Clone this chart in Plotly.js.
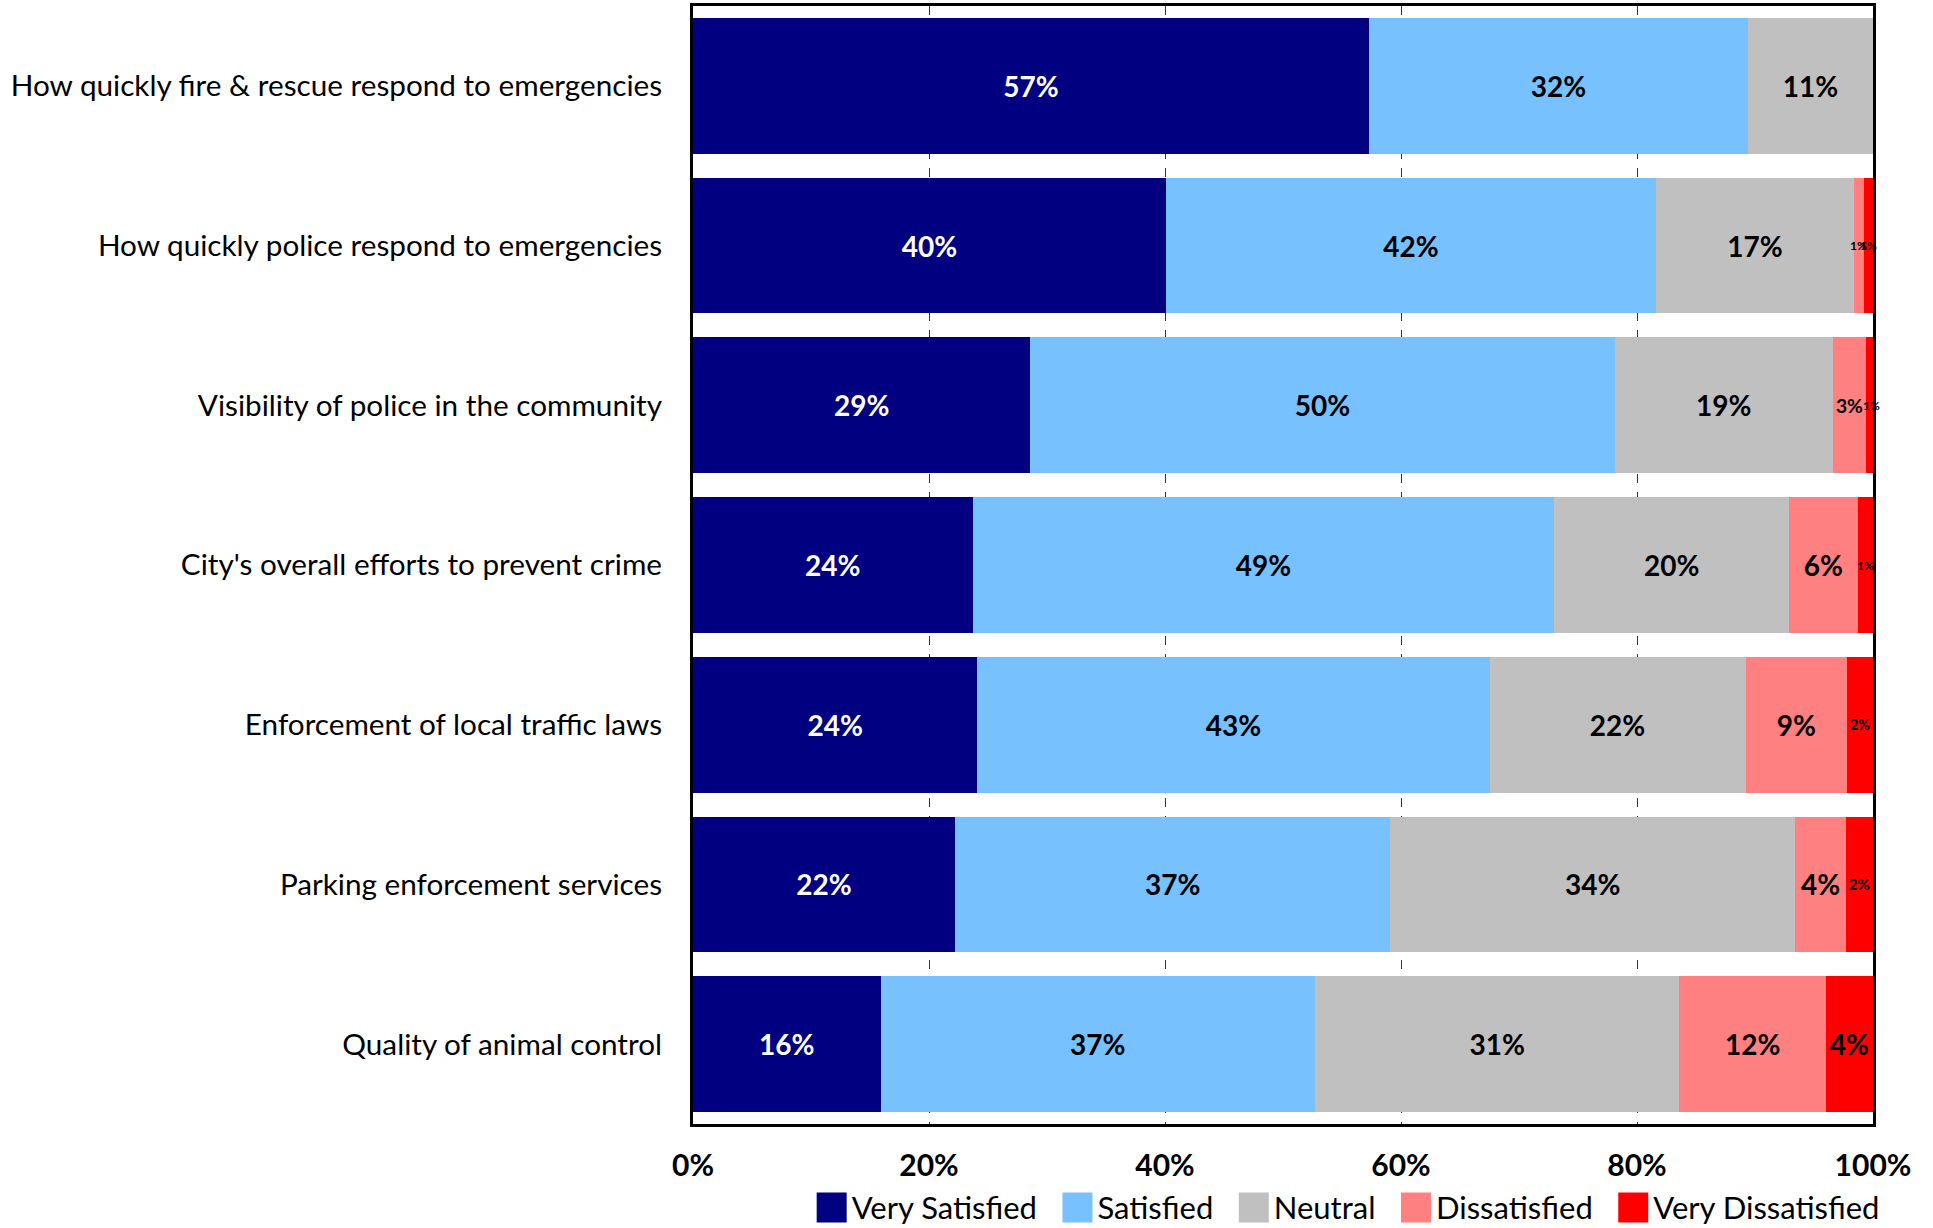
<!DOCTYPE html>
<html>
<head>
<meta charset="utf-8">
<script src="https://cdn.plot.ly/plotly-3.0.1.min.js"></script>
<style>
  html, body { margin: 0; padding: 0; background: #ffffff; }
  #chart { width: 1933px; height: 1228px; }
</style>
</head>
<body>
<div id="chart"></div>
<script>
const categories = [
  "How quickly fire & rescue respond to emergencies",
  "How quickly police respond to emergencies",
  "Visibility of police in the community",
  "City's overall efforts to prevent crime",
  "Enforcement of local traffic laws",
  "Parking enforcement services",
  "Quality of animal control"
];
const seriesNames = ["Very Satisfied", "Satisfied", "Neutral", "Dissatisfied", "Very Dissatisfied"];
const verySatisfied    = [57.3, 40.1, 28.6, 23.7, 24.1, 22.2, 15.9];
const satisfied        = [32.1, 41.5, 49.5, 49.3, 43.4, 36.9, 36.8];
const neutral          = [10.6, 16.8, 18.5, 19.9, 21.7, 34.3, 30.9];
const dissatisfied     = [0.0,  0.8,  2.8,  5.8,  8.6,  4.3, 12.4];
const veryDissatisfied = [0.0,  0.8,  0.9,  1.3,  2.2,  2.3,  4.0];
const tickVals = [0, 20, 40, 60, 80, 100];
const tickText = ["0%", "20%", "40%", "60%", "80%", "100%"];

const colors = ["#000080", "#77C1FE", "#C0C0C0", "#FF8080", "#FF0000"];
const textColors = ["#ffffff", "#000000", "#000000", "#000000", "#000000"];
const allSeries = [verySatisfied, satisfied, neutral, dissatisfied, veryDissatisfied];
const FONT = "Lato, 'Open Sans', sans-serif";
const TINY = 1.5;

const fmt = v => Math.round(v) + "%";

const traces = allSeries.map((vals, i) => ({
  type: "bar",
  orientation: "h",
  // en-space after the name widens the gap between legend entries
  name: seriesNames[i] + (i < seriesNames.length - 1 ? "\u2002" : ""),
  y: categories,
  x: vals,
  text: vals.map(v => (v >= TINY) ? fmt(v) : ""),
  textposition: "inside",
  insidetextanchor: "middle",
  textangle: 0,
  insidetextfont: { family: FONT, size: 28, color: textColors[i], weight: "bold" },
  marker: { color: colors[i], line: { width: 0 } },
  hoverinfo: "none"
}));

// labels for very thin segments: drawn un-shrunk, centred on the segment
const annotations = [];
categories.forEach((cat, r) => {
  let cum = 0;
  allSeries.forEach((vals, i) => {
    const v = vals[r];
    if (v > 0 && v < TINY) {
      annotations.push({
        x: cum + v / 2, y: cat, xref: "x", yref: "y",
        text: "<b>" + fmt(v) + "</b>", showarrow: false,
        font: { family: FONT, size: 12, color: textColors[i] },
        xanchor: "center", yanchor: "middle"
      });
    }
    cum += v;
  });
});

const layout = {
  width: 1933,
  height: 1228,
  barmode: "stack",
  bargap: 0.15,
  paper_bgcolor: "#ffffff",
  plot_bgcolor: "#ffffff",
  margin: { l: 693, r: 60, t: 6, b: 104, autoexpand: false },
  font: { family: FONT, color: "#000000" },
  showlegend: true,
  legend: {
    orientation: "h",
    x: 0.975, xanchor: "right", xref: "container",
    y: 0.0165, yanchor: "middle", yref: "container",
    font: { family: FONT, size: 31, color: "#000000" },
    traceorder: "normal",
    itemwidth: 30,
    tracegroupgap: 0
  },
  annotations: annotations,
  xaxis: {
    range: [0, 100],
    tickvals: tickVals,
    ticktext: tickText,
    tickfont: { family: FONT, size: 30, color: "#000000", weight: "bold" },
    showgrid: true,
    gridcolor: "#333333",
    gridwidth: 1,
    griddash: "dash",
    showline: true,
    linecolor: "#000000",
    linewidth: 3,
    mirror: true,
    ticks: "",
    ticklabelstandoff: 13,
    zeroline: false,
    layer: "below traces"
  },
  yaxis: {
    autorange: "reversed",
    tickfont: { family: FONT, size: 29.7, color: "#000000" },
    showline: true,
    linecolor: "#000000",
    linewidth: 3,
    mirror: true,
    ticks: "",
    ticklabelstandoff: 22,
    showgrid: false,
    zeroline: false
  }
};

Plotly.newPlot("chart", traces, layout, { displayModeBar: false, staticPlot: true }).then(gd => {
  // enlarge the legend colour swatches to match the reference's big squares
  gd.querySelectorAll(".legend .legendpoints path").forEach(p => {
    p.setAttribute("transform", "translate(20,0) scale(2.5)");
  });
});
</script>
</body>
</html>
